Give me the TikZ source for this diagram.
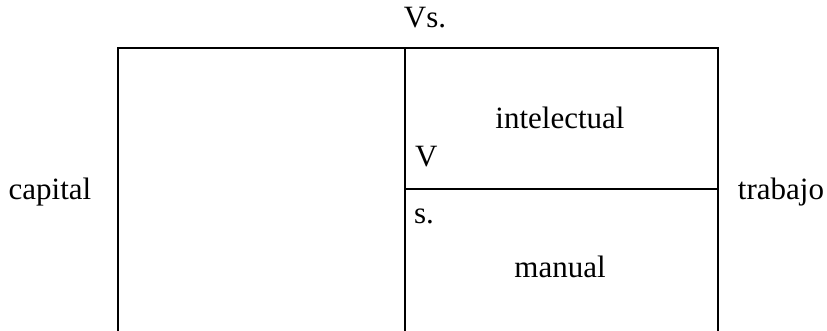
\documentclass[tikz,border=0pt]{standalone}
\usepackage{fontspec}
\setmainfont{Liberation Serif}
\begin{document}
\begin{tikzpicture}[x=1pt,y=-1pt,
  lbl/.style={inner sep=0pt,outer sep=0pt,font=\fontsize{31}{37}\selectfont},
  wall/.style={line width=2pt,line cap=rect}]
\useasboundingbox (0,0) rectangle (827,331);
\coordinate (tl) at (118,48);
\coordinate (tr) at (718,48);
\coordinate (bl) at (118,331);
\coordinate (br) at (718,331);
\coordinate (tm) at (405,48);
\coordinate (bm) at (405,331);
\coordinate (ml) at (405,189);
\coordinate (mr) at (718,189);
\draw[wall] (bl) -- (tl) -- (tr) -- (br);
\draw[wall] (tm) -- (bm);
\draw[wall] (ml) -- (mr);
\node[lbl,anchor=base] (vs) at (425,28) {Vs.};
\node[lbl,anchor=base] (cap) at (50,200) {capital};
\node[lbl,anchor=base] (tra) at (781,200) {trabajo};
\node[lbl,anchor=base] (int) at (560,129) {intelectual};
\node[lbl,anchor=base west] (v) at (415,167) {V};
\node[lbl,anchor=base west] (s) at (414,223) {s.};
\node[lbl,anchor=base] (man) at (560,277) {manual};
\end{tikzpicture}
\end{document}
